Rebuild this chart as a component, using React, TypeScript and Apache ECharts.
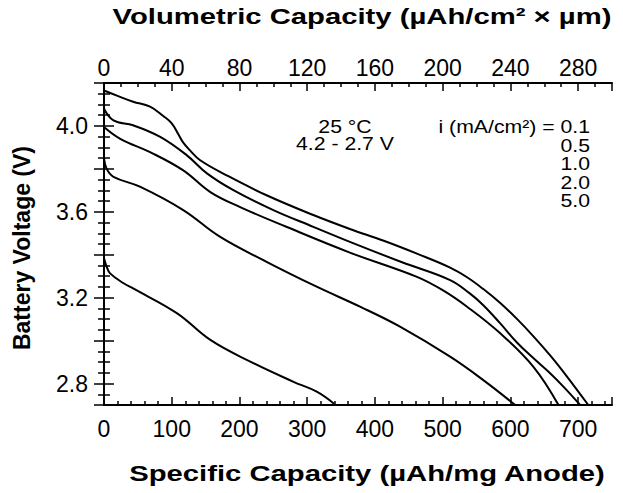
import React, { useEffect, useRef } from "react";
import * as echarts from "echarts";

const FONT = "'Liberation Sans', Arial, Helvetica, sans-serif";

// Current densities (mA/cm²)
const currents = ["0.1", "0.5", "1.0", "2.0", "5.0"];

// Specific capacity (µAh/mg anode) and battery voltage (V), one pair per current density
const capA = [0, 20, 43, 68, 88, 100, 110, 117, 127, 142, 181, 240, 309, 363, 413, 462, 511, 536, 560, 585, 610, 634, 659, 683, 715];
const voltA = [4.165, 4.14, 4.113, 4.09, 4.045, 4.012, 3.96, 3.922, 3.886, 3.84, 3.77, 3.677, 3.585, 3.52, 3.465, 3.405, 3.34, 3.295, 3.24, 3.175, 3.1, 3.02, 2.93, 2.835, 2.7];

const capB = [0, 14, 43, 83, 122, 152, 191, 250, 309, 363, 440, 511, 540, 560, 585, 610, 635, 659, 680, 703];
const voltB = [4.08, 4.026, 4.003, 3.949, 3.864, 3.779, 3.701, 3.608, 3.53, 3.46, 3.365, 3.282, 3.22, 3.165, 3.08, 2.99, 2.915, 2.847, 2.78, 2.7];

const capC = [0, 24, 68, 117, 157, 201, 270, 363, 462, 500, 536, 585, 634, 671];
const voltC = [3.995, 3.94, 3.878, 3.793, 3.692, 3.622, 3.529, 3.41, 3.297, 3.235, 3.158, 3.034, 2.878, 2.7];

const capD = [0, 4, 14, 53, 117, 171, 240, 314, 378, 437, 511, 560, 607];
const voltD = [3.849, 3.8, 3.763, 3.717, 3.608, 3.484, 3.367, 3.251, 3.158, 3.065, 2.925, 2.816, 2.7];

const capE = [0, 4, 9, 29, 43, 108, 157, 216, 279, 314, 340];
const voltE = [3.383, 3.344, 3.313, 3.267, 3.243, 3.127, 3.003, 2.902, 2.809, 2.762, 2.705];

const curves = [
  [capA, voltA],
  [capB, voltB],
  [capC, voltC],
  [capD, voltD],
  [capE, voltE],
];

const yLabels = ["2.8", "3.2", "3.6", "4.0"];
const topLabels = ["0", "40", "80", "120", "160", "200", "240", "280"];
const bottomLabels = ["0", "100", "200", "300", "400", "500", "600", "700"];

export default function App() {
  const ref = useRef<HTMLDivElement>(null);
  useEffect(() => {
    if (!ref.current) return;
    const chart = echarts.init(ref.current, null, { renderer: "svg" });
    const tickStyle = { color: "#000", width: 1.5 };
    const yAxisCommon = {
      type: "value",
      min: 2.7,
      max: 4.2,
      splitNumber: 7,
      minInterval: 0.2,
      maxInterval: 0.2,
      splitLine: { show: false },
      axisTick: { show: true, inside: true, length: 10, lineStyle: tickStyle },
      minorTick: { show: true, splitNumber: 4, length: 6, lineStyle: tickStyle },
    };
    const labelFont = { color: "#000", fontSize: 23, fontFamily: FONT };
    chart.setOption({
      animation: false,
      backgroundColor: "#fff",
      grid: { left: 104, right: 11, top: 83, bottom: 88 },
      xAxis: [
        {
          type: "value",
          min: 0,
          max: 750,
          interval: 100,
          position: "bottom",
          splitLine: { show: false },
          axisLine: { show: true, onZero: false, lineStyle: { color: "#000", width: 2 } },
          axisTick: { show: true, inside: true, length: 8, lineStyle: tickStyle },
          minorTick: { show: true, splitNumber: 5, length: 4, lineStyle: tickStyle },
          axisLabel: {
            ...labelFont,
            margin: 12,
            formatter: (v: number) => (bottomLabels.includes(String(v)) ? String(v) : ""),
          },
        },
        {
          type: "value",
          min: 0,
          max: 300,
          interval: 40,
          position: "top",
          splitLine: { show: false },
          axisLine: { show: true, onZero: false, lineStyle: { color: "#000", width: 2 } },
          axisTick: { show: true, inside: true, length: 8, lineStyle: tickStyle },
          minorTick: { show: true, splitNumber: 4, length: 4, lineStyle: tickStyle },
          axisLabel: {
            ...labelFont,
            margin: 4,
            formatter: (v: number) => (topLabels.includes(String(v)) ? String(v) : ""),
          },
        },
      ],
      yAxis: [
        {
          ...yAxisCommon,
          position: "left",
          axisLine: { show: true, onZero: false, lineStyle: { color: "#000", width: 2 } },
          axisLabel: {
            ...labelFont,
            margin: 16,
            formatter: (v: number) => {
              const s = v.toFixed(1);
              return yLabels.includes(s) && Math.abs(v * 10 - Math.round(v * 10)) < 1e-6 ? s : "";
            },
          },
        },
        {
          ...yAxisCommon,
          position: "right",
          axisLine: { show: false },
          axisLabel: { show: false },
        },
      ],
      series: curves.map(([xs, ys], i) => ({
        name: currents[i],
        type: "line",
        xAxisIndex: 0,
        yAxisIndex: 0,
        data: xs.map((x, k) => [x, ys[k]]),
        smooth: 0.4,
        showSymbol: false,
        symbol: "none",
        lineStyle: { color: "#000", width: 2 },
      })),
      graphic: [
        {
          type: "text",
          x: 362,
          y: 16,
          scaleX: 1.33,
          style: {
            text: "Volumetric Capacity (µAh/cm² × µm)",
            font: `bold 22px ${FONT}`,
            fill: "#000",
            textAlign: "center",
            textVerticalAlign: "middle",
          },
        },
        {
          type: "text",
          x: 367,
          y: 473,
          scaleX: 1.33,
          style: {
            text: "Specific Capacity (µAh/mg Anode)",
            font: `bold 22px ${FONT}`,
            fill: "#000",
            textAlign: "center",
            textVerticalAlign: "middle",
          },
        },
        {
          type: "text",
          x: 22,
          y: 248,
          rotation: Math.PI / 2,
          style: {
            text: "Battery Voltage (V)",
            font: `bold 23px ${FONT}`,
            fill: "#000",
            textAlign: "center",
            textVerticalAlign: "middle",
          },
        },
        {
          type: "text",
          x: 345,
          y: 127,
          scaleX: 1.18,
          style: { text: "25 °C", font: `18px ${FONT}`, fill: "#000", textAlign: "center", textVerticalAlign: "middle" },
        },
        {
          type: "text",
          x: 345,
          y: 144,
          scaleX: 1.18,
          style: { text: "4.2 - 2.7 V", font: `18px ${FONT}`, fill: "#000", textAlign: "center", textVerticalAlign: "middle" },
        },
        ...currents.map((c, i) => ({
          type: "text",
          x: 590,
          y: 127 + i * 18.5,
          scaleX: 1.18,
          style: {
            text: i === 0 ? `i (mA/cm²) = ${c}` : c,
            font: `18px ${FONT}`,
            fill: "#000",
            textAlign: "right",
            textVerticalAlign: "middle",
          },
        })),
      ],
    });
    return () => chart.dispose();
  }, []);
  return <div ref={ref} style={{ position: "absolute", left: 0, top: 0, width: 623, height: 493 }} />;
}
